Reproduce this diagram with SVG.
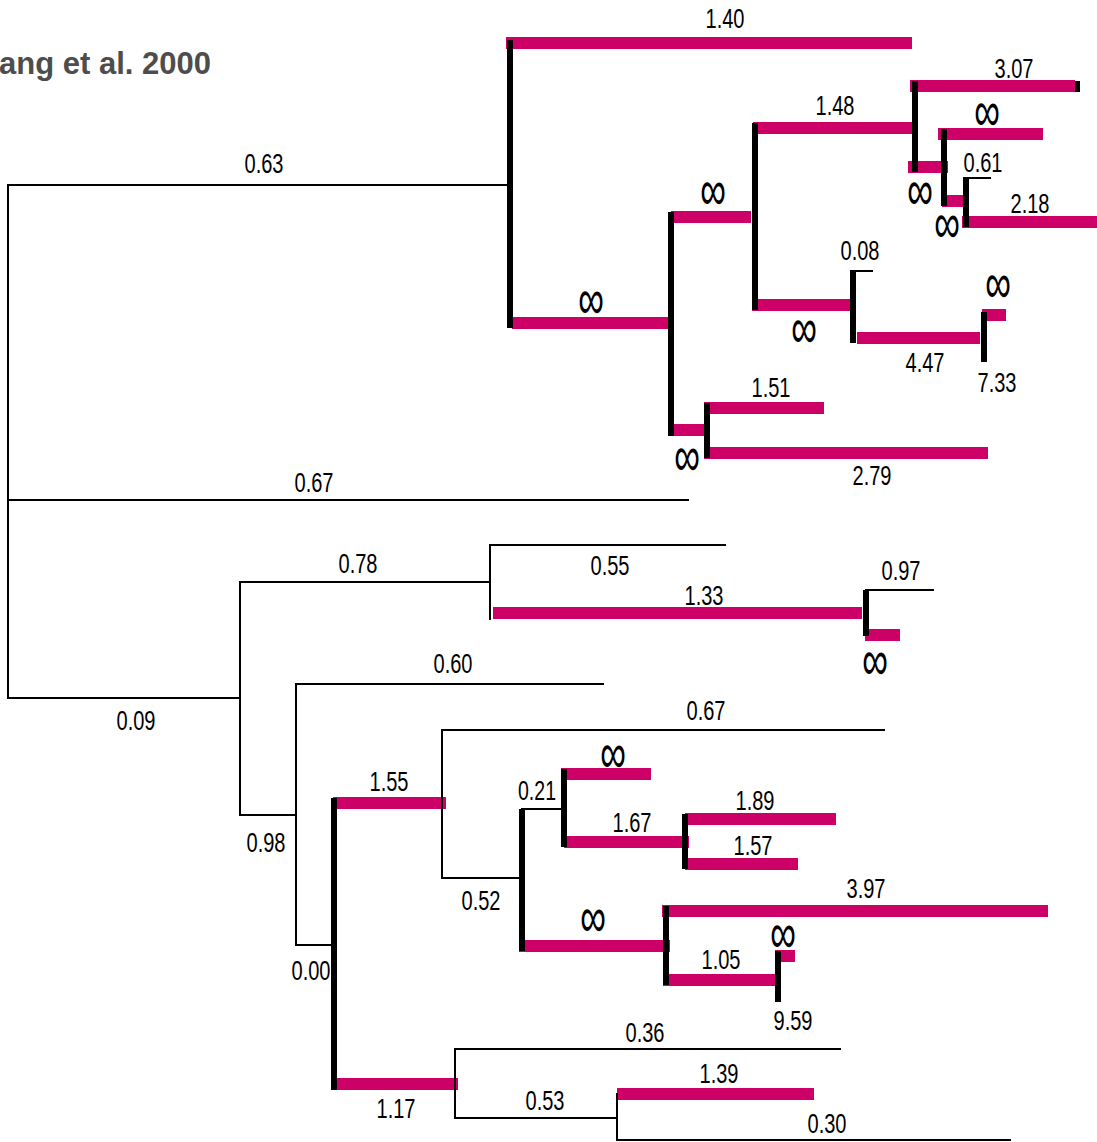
<svg xmlns="http://www.w3.org/2000/svg" width="1097" height="1142" viewBox="0 0 1097 1142">
<style>
.t{stroke:#000;stroke-width:2;fill:none;stroke-linecap:square}
.m{fill:#CC0066}
.k{fill:#000}
.lb{font-family:"Liberation Sans",Arial,sans-serif;font-size:27px;fill:#000;text-anchor:middle}
.inf{font-family:"DejaVu Sans Light","DejaVu Sans ExtraLight","DejaVu Sans","Liberation Sans",sans-serif;font-weight:200;font-size:36px;fill:#000;text-anchor:middle}
.title{font-family:"Liberation Sans",Arial,sans-serif;font-size:31px;font-weight:bold;fill:#4d4d4d}
</style>
<rect width="1097" height="1142" fill="#fff"/>
<text class="title" x="-1" y="74">ang et al. 2000</text>

<g id="connectors">
<path class="t" d="M8,185H510 M8,500H688 M8,698H240 M240,582H490 M240,815H296 M490,545H725 M866,590H933 M296,684H603 M296,945H334 M442,730H884 M442,878H522 M522,809H564 M853,271H872 M966,178H990 M455,1049H840 M455,1118H617 M617,1140H1010"/>
<rect class="m" x="506" y="37" width="406" height="12"/>
<rect class="m" x="512" y="317" width="156" height="12"/>
<rect class="m" x="671" y="211" width="80" height="12"/>
<rect class="m" x="753" y="122" width="161" height="12"/>
<rect class="m" x="910" y="80" width="165" height="12"/>
<rect class="k" x="1075" y="81" width="5" height="11"/>
<rect class="m" x="908" y="161" width="40" height="12"/>
<rect class="m" x="938" y="128" width="105" height="12"/>
<rect class="m" x="942" y="195" width="21" height="12"/>
<rect class="m" x="962" y="216" width="135" height="12"/>
<rect class="m" x="752" y="299" width="103" height="12"/>
<rect class="m" x="857" y="332" width="123" height="12"/>
<rect class="m" x="982" y="309" width="24" height="12"/>
<rect class="m" x="672" y="424" width="35" height="12"/>
<rect class="m" x="704" y="402" width="120" height="12"/>
<rect class="m" x="704" y="447" width="284" height="12"/>
<rect class="m" x="493" y="607" width="369" height="12"/>
<rect class="m" x="865" y="629" width="35" height="12"/>
<rect class="m" x="333" y="797" width="113" height="12"/>
<rect class="m" x="332" y="1078" width="126" height="12"/>
<rect class="m" x="519" y="940" width="151" height="12"/>
<rect class="m" x="561" y="768" width="90" height="12"/>
<rect class="m" x="564" y="836" width="125" height="12"/>
<rect class="m" x="685" y="813" width="151" height="12"/>
<rect class="m" x="685" y="858" width="113" height="12"/>
<rect class="m" x="662" y="905" width="386" height="12"/>
<rect class="m" x="663" y="974" width="116" height="12"/>
<rect class="m" x="775" y="950" width="20" height="12"/>
<rect class="m" x="617" y="1088" width="197" height="12"/>
</g>

<g id="node-root"><path class="t" d="M8,185V698"/></g>
<g id="node-A"><rect class="k" x="507" y="40" width="6" height="288"/></g>
<g id="node-B"><rect class="k" x="668" y="212" width="6" height="224"/></g>
<g id="node-C"><rect class="k" x="752" y="123" width="6" height="187"/></g>
<g id="node-D"><rect class="k" x="912" y="81" width="6" height="91"/></g>
<g id="node-E"><rect class="k" x="941" y="129" width="6" height="77"/></g>
<g id="node-F"><rect class="k" x="963" y="177" width="6" height="50"/></g>
<g id="node-G"><rect class="k" x="850" y="270" width="6" height="73"/></g>
<g id="node-H"><rect class="k" x="981" y="312" width="6" height="50"/></g>
<g id="node-I"><rect class="k" x="704" y="403" width="6" height="55"/></g>
<g id="node-J"><path class="t" d="M240,582V815"/></g>
<g id="node-K"><path class="t" d="M490,545V619"/></g>
<g id="node-L"><rect class="k" x="863" y="590" width="6" height="46"/></g>
<g id="node-M"><path class="t" d="M296,684V945"/></g>
<g id="node-N"><rect class="k" x="331" y="798" width="6" height="292"/></g>
<g id="node-O"><path class="t" d="M442,730V878"/></g>
<g id="node-P"><rect class="k" x="519" y="809" width="6" height="142"/></g>
<g id="node-Q"><rect class="k" x="561" y="769" width="6" height="78"/></g>
<g id="node-R"><rect class="k" x="682" y="814" width="6" height="55"/></g>
<g id="node-S"><rect class="k" x="663" y="906" width="6" height="79"/></g>
<g id="node-T"><rect class="k" x="775" y="951" width="6" height="51"/></g>
<g id="node-U"><path class="t" d="M455,1049V1118"/></g>
<g id="node-V"><path class="t" d="M617,1094V1140"/></g>

<g id="labels">
<text class="lb" x="725" y="28" textLength="39" lengthAdjust="spacingAndGlyphs">1.40</text>
<text class="lb" x="264" y="173" textLength="39" lengthAdjust="spacingAndGlyphs">0.63</text>
<text class="lb" x="1014" y="78" textLength="39" lengthAdjust="spacingAndGlyphs">3.07</text>
<text class="lb" x="835" y="115" textLength="39" lengthAdjust="spacingAndGlyphs">1.48</text>
<text class="lb" x="983" y="172" textLength="39" lengthAdjust="spacingAndGlyphs">0.61</text>
<text class="lb" x="1030" y="213" textLength="39" lengthAdjust="spacingAndGlyphs">2.18</text>
<text class="lb" x="860" y="260" textLength="39" lengthAdjust="spacingAndGlyphs">0.08</text>
<text class="lb" x="925" y="372" textLength="39" lengthAdjust="spacingAndGlyphs">4.47</text>
<text class="lb" x="997" y="392" textLength="39" lengthAdjust="spacingAndGlyphs">7.33</text>
<text class="lb" x="771" y="397" textLength="39" lengthAdjust="spacingAndGlyphs">1.51</text>
<text class="lb" x="872" y="485" textLength="39" lengthAdjust="spacingAndGlyphs">2.79</text>
<text class="lb" x="314" y="492" textLength="39" lengthAdjust="spacingAndGlyphs">0.67</text>
<text class="lb" x="358" y="573" textLength="39" lengthAdjust="spacingAndGlyphs">0.78</text>
<text class="lb" x="610" y="575" textLength="39" lengthAdjust="spacingAndGlyphs">0.55</text>
<text class="lb" x="901" y="580" textLength="39" lengthAdjust="spacingAndGlyphs">0.97</text>
<text class="lb" x="704" y="605" textLength="39" lengthAdjust="spacingAndGlyphs">1.33</text>
<text class="lb" x="453" y="673" textLength="39" lengthAdjust="spacingAndGlyphs">0.60</text>
<text class="lb" x="136" y="730" textLength="39" lengthAdjust="spacingAndGlyphs">0.09</text>
<text class="lb" x="706" y="720" textLength="39" lengthAdjust="spacingAndGlyphs">0.67</text>
<text class="lb" x="389" y="791" textLength="39" lengthAdjust="spacingAndGlyphs">1.55</text>
<text class="lb" x="537" y="800" textLength="38" lengthAdjust="spacingAndGlyphs">0.21</text>
<text class="lb" x="755" y="810" textLength="39" lengthAdjust="spacingAndGlyphs">1.89</text>
<text class="lb" x="632" y="832" textLength="39" lengthAdjust="spacingAndGlyphs">1.67</text>
<text class="lb" x="266" y="852" textLength="39" lengthAdjust="spacingAndGlyphs">0.98</text>
<text class="lb" x="753" y="855" textLength="39" lengthAdjust="spacingAndGlyphs">1.57</text>
<text class="lb" x="866" y="898" textLength="39" lengthAdjust="spacingAndGlyphs">3.97</text>
<text class="lb" x="481" y="910" textLength="39" lengthAdjust="spacingAndGlyphs">0.52</text>
<text class="lb" x="721" y="969" textLength="39" lengthAdjust="spacingAndGlyphs">1.05</text>
<text class="lb" x="311" y="980" textLength="39" lengthAdjust="spacingAndGlyphs">0.00</text>
<text class="lb" x="793" y="1030" textLength="39" lengthAdjust="spacingAndGlyphs">9.59</text>
<text class="lb" x="645" y="1042" textLength="39" lengthAdjust="spacingAndGlyphs">0.36</text>
<text class="lb" x="719" y="1083" textLength="39" lengthAdjust="spacingAndGlyphs">1.39</text>
<text class="lb" x="545" y="1110" textLength="39" lengthAdjust="spacingAndGlyphs">0.53</text>
<text class="lb" x="396" y="1118" textLength="39" lengthAdjust="spacingAndGlyphs">1.17</text>
<text class="lb" x="827" y="1133" textLength="39" lengthAdjust="spacingAndGlyphs">0.30</text>
<text class="inf" transform="translate(987,131) scale(1,1.6)">∞</text>
<text class="inf" transform="translate(920,210) scale(1,1.6)">∞</text>
<text class="inf" transform="translate(947,243) scale(1,1.6)">∞</text>
<text class="inf" transform="translate(713,210) scale(1,1.6)">∞</text>
<text class="inf" transform="translate(998,303) scale(1,1.6)">∞</text>
<text class="inf" transform="translate(591,319) scale(1,1.6)">∞</text>
<text class="inf" transform="translate(804,348) scale(1,1.6)">∞</text>
<text class="inf" transform="translate(687,476) scale(1,1.6)">∞</text>
<text class="inf" transform="translate(875,680) scale(1,1.6)">∞</text>
<text class="inf" transform="translate(613,773) scale(1,1.6)">∞</text>
<text class="inf" transform="translate(593,937) scale(1,1.6)">∞</text>
<text class="inf" transform="translate(783,953) scale(1,1.6)">∞</text>
</g>
</svg>
